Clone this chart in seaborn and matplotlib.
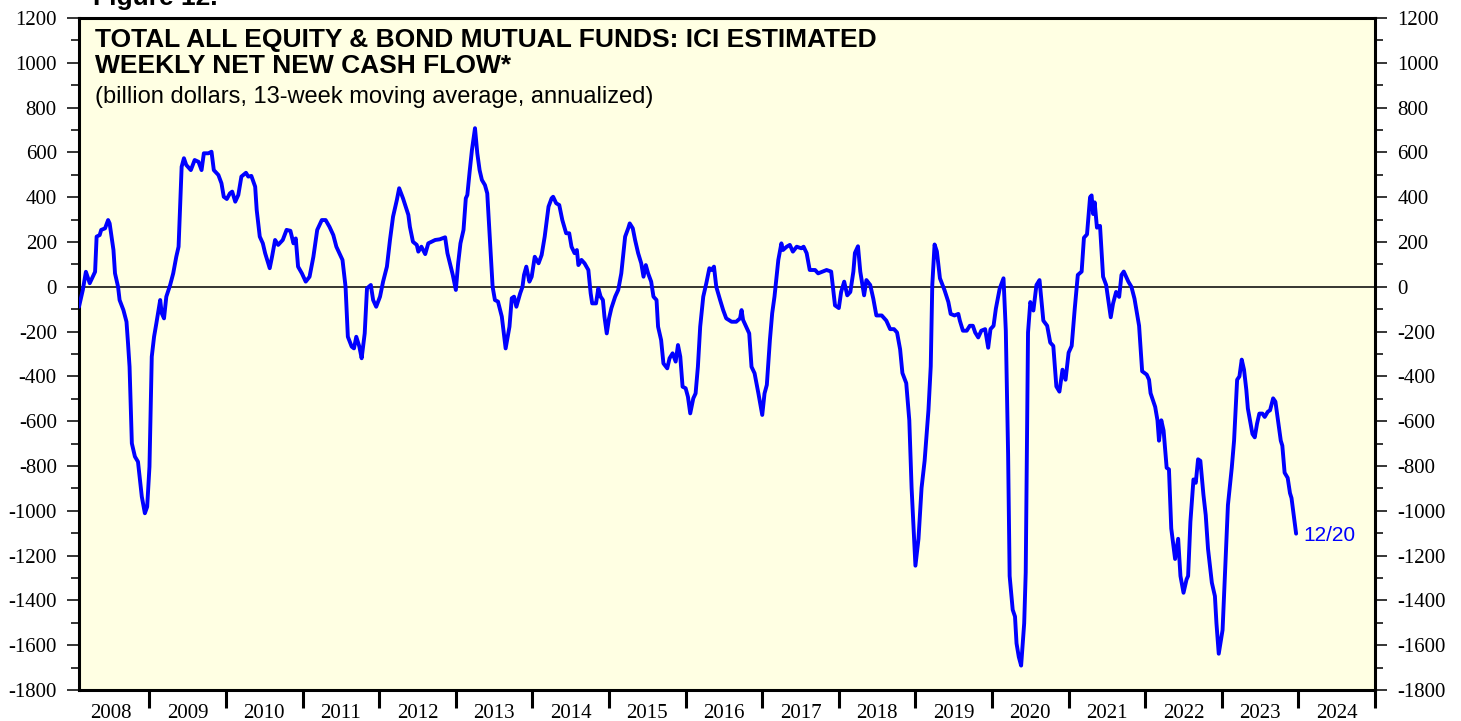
import matplotlib
matplotlib.use("Agg")
import matplotlib.pyplot as plt
import numpy as np
import pandas as pd
import seaborn as sns
from matplotlib.ticker import MultipleLocator, FixedLocator, NullFormatter, FixedFormatter

# ---- data (decimal year, billion dollars) ----
dates = [
    2008.08, 2008.13, 2008.17, 2008.22, 2008.27, 2008.29, 2008.31, 2008.35, 2008.37, 2008.42,
    2008.46, 2008.48, 2008.53, 2008.55, 2008.59, 2008.61, 2008.66, 2008.70, 2008.72, 2008.74,
    2008.77, 2008.81, 2008.85, 2008.90, 2008.94, 2008.97, 2009.00, 2009.03, 2009.06, 2009.09,
    2009.14, 2009.16, 2009.19, 2009.22, 2009.27, 2009.31, 2009.35, 2009.38, 2009.42, 2009.45,
    2009.48, 2009.54, 2009.59, 2009.64, 2009.68, 2009.71, 2009.77, 2009.81, 2009.84, 2009.90,
    2009.94, 2009.97, 2010.01, 2010.05, 2010.08, 2010.12, 2010.16, 2010.20, 2010.26, 2010.29,
    2010.33, 2010.38, 2010.40, 2010.44, 2010.48, 2010.51, 2010.57, 2010.60, 2010.64, 2010.68,
    2010.74, 2010.79, 2010.84, 2010.88, 2010.91, 2010.94, 2010.99, 2011.04, 2011.09, 2011.14,
    2011.19, 2011.25, 2011.30, 2011.35, 2011.40, 2011.44, 2011.52, 2011.56, 2011.59, 2011.64,
    2011.67, 2011.70, 2011.74, 2011.77, 2011.81, 2011.84, 2011.89, 2011.92, 2011.96, 2012.01,
    2012.05, 2012.10, 2012.14, 2012.18, 2012.23, 2012.26, 2012.31, 2012.38, 2012.40, 2012.44,
    2012.49, 2012.51, 2012.55, 2012.60, 2012.64, 2012.73, 2012.79, 2012.86,
    2012.89, 2012.96, 2013.00, 2013.03, 2013.06, 2013.10, 2013.13, 2013.15, 2013.18, 2013.21,
    2013.25, 2013.28, 2013.31, 2013.34, 2013.38, 2013.41, 2013.44, 2013.48, 2013.51, 2013.55,
    2013.60, 2013.65, 2013.70, 2013.73, 2013.76, 2013.79, 2013.84, 2013.87, 2013.89, 2013.92,
    2013.96, 2013.99, 2014.03, 2014.08, 2014.12, 2014.16, 2014.21, 2014.25, 2014.27, 2014.31,
    2014.35, 2014.39, 2014.44, 2014.48, 2014.51, 2014.55, 2014.58, 2014.60, 2014.64, 2014.68,
    2014.73, 2014.76, 2014.78, 2014.83, 2014.86, 2014.89, 2014.92, 2014.94, 2014.97, 2015.00,
    2015.03, 2015.08, 2015.12, 2015.16, 2015.21, 2015.25, 2015.27, 2015.31, 2015.34, 2015.38,
    2015.42, 2015.45, 2015.48, 2015.51, 2015.55, 2015.58, 2015.62, 2015.64, 2015.68, 2015.71,
    2015.76, 2015.79, 2015.83, 2015.87, 2015.90, 2015.93, 2015.96, 2016.00, 2016.03, 2016.06,
    2016.10, 2016.13, 2016.16, 2016.19, 2016.23, 2016.27, 2016.31, 2016.34, 2016.37, 2016.40,
    2016.45, 2016.49, 2016.53, 2016.60, 2016.66, 2016.71, 2016.73, 2016.75, 2016.79, 2016.83,
    2016.86, 2016.90, 2016.95, 2017.00, 2017.03, 2017.06, 2017.10, 2017.13, 2017.16, 2017.21,
    2017.25, 2017.27, 2017.32, 2017.36, 2017.40, 2017.45, 2017.51, 2017.54, 2017.58, 2017.62,
    2017.69, 2017.73,
    2017.84, 2017.90, 2017.95, 2018.00, 2018.03, 2018.07, 2018.11, 2018.15, 2018.19, 2018.21,
    2018.25, 2018.28, 2018.33, 2018.36, 2018.41, 2018.45, 2018.49, 2018.56, 2018.62, 2018.67,
    2018.72, 2018.76, 2018.80, 2018.83, 2018.88, 2018.92, 2018.95, 2019.00, 2019.04, 2019.08,
    2019.12, 2019.17, 2019.20, 2019.22, 2019.25, 2019.28, 2019.32, 2019.38, 2019.43, 2019.46,
    2019.51, 2019.56, 2019.58, 2019.62, 2019.67, 2019.71, 2019.75, 2019.78, 2019.82, 2019.86,
    2019.91, 2019.95, 2019.98, 2020.02, 2020.05, 2020.10, 2020.15, 2020.18, 2020.21, 2020.23,
    2020.27, 2020.30, 2020.32, 2020.35, 2020.38, 2020.42, 2020.44, 2020.47, 2020.50, 2020.54,
    2020.58, 2020.62, 2020.67, 2020.72, 2020.76, 2020.80, 2020.84, 2020.88, 2020.92, 2020.96,
    2021.00, 2021.04, 2021.08, 2021.12, 2021.17, 2021.20, 2021.24, 2021.28, 2021.30, 2021.32,
    2021.34, 2021.37,
    2021.41, 2021.45, 2021.49, 2021.55, 2021.58, 2021.62, 2021.66, 2021.69, 2021.72, 2021.78,
    2021.82, 2021.86, 2021.92, 2021.96, 2022.02, 2022.05, 2022.07, 2022.13, 2022.16, 2022.18,
    2022.21, 2022.24, 2022.28, 2022.31, 2022.34, 2022.39, 2022.43, 2022.46, 2022.50, 2022.54,
    2022.56, 2022.59, 2022.63, 2022.66, 2022.69, 2022.72, 2022.76, 2022.79, 2022.82, 2022.87,
    2022.91, 2022.93, 2022.96, 2023.01, 2023.04, 2023.08, 2023.13, 2023.16, 2023.18, 2023.20,
    2023.23, 2023.26, 2023.29, 2023.32, 2023.34, 2023.40, 2023.43, 2023.46, 2023.49, 2023.53,
    2023.56, 2023.60, 2023.63, 2023.67, 2023.70, 2023.74, 2023.77, 2023.79, 2023.82, 2023.86,
    2023.89, 2023.91, 2023.97,
]
flows = [
    -89, -14, 67, 16, 53, 67, 224, 231, 254, 261,
    298, 283, 164, 60, 0, -59, -104, -156, -252, -357,
    -699, -758, -781, -937, -1011, -982, -803, -312, -223, -163,
    -59, -118, -141, -44, 8, 60, 134, 179, 536, 574,
    544, 521, 566, 558, 521, 596, 596, 603, 521, 499,
    462, 402, 392, 417, 425, 380, 410, 492, 509, 492,
    495, 447, 343, 224, 194, 150, 83, 134, 209, 187,
    209, 254, 250, 194, 216, 90, 60, 23, 45, 134,
    254, 298, 298, 268, 231, 179, 120, 0, -223, -267,
    -275, -223, -267, -319, -208, -7, 8, -59, -89, -44,
    23, 90, 209, 313, 388, 440, 395, 321, 268, 201,
    187, 157, 179, 146, 194, 209, 212, 221,
    150, 53, -14, 105, 194, 254, 395, 410, 514, 611,
    708, 596, 521, 477, 454, 417, 239, 0, -59, -66,
    -133, -275, -178, -51, -44, -89, -29, 0, 53, 90,
    23, 45, 134, 105, 142, 224, 358, 395, 402, 373,
    365, 298, 239, 239, 179, 150, 164, 97, 120, 105,
    75, -29, -74, -74, -7, -44, -59, -133, -208, -141,
    -96, -44, -14, 60, 224, 261, 283, 261, 209, 150,
    105, 45, 97, 60, 23, -44, -59, -178, -238, -342,
    -364, -319, -297, -334, -260, -312, -446, -453, -491, -565,
    -498, -476, -357, -178, -44, 16, 83, 75, 90, 0,
    -59, -104, -141, -156, -156, -141, -104, -148, -178, -208,
    -357, -386, -476, -572, -476, -438, -238, -118, -44, 120,
    194, 164, 179, 187, 157, 179, 172, 179, 150, 75,
    75, 60,
    75, 68, -83, -95, -23, 23, -38, -23, 68, 151,
    181, 68, -38, 30, 8, -53, -128, -128, -151, -189,
    -189, -204, -279, -385, -430, -596, -898, -1245, -1125, -898,
    -777, -551, -355, 8, 189, 158, 38, -15, -68, -121,
    -128, -121, -151, -196, -196, -174, -174, -204, -226, -196,
    -189, -272, -189, -174, -98, -8, 38, -196, -747, -1291,
    -1442, -1472, -1592, -1653, -1691, -1502, -1275, -204, -68, -106,
    8, 30, -151, -174, -249, -264, -445, -468, -370, -415,
    -294, -264, -98, 53, 68, 219, 234, 400, 408, 325,
    377, 264,
    272, 45, 8, -136, -75, -23, -45, 53, 68, 23,
    0, -53, -174, -377, -392, -415, -475, -536, -596, -687,
    -596, -642, -808, -815, -1079, -1215, -1125, -1291, -1366, -1306,
    -1291, -1049, -860, -875, -770, -777, -928, -1019, -1170, -1321,
    -1381, -1502, -1638, -1532, -1291, -974, -808, -687, -551, -415,
    -400, -325, -370, -460, -543, -657, -672, -611, -566, -566,
    -581, -558, -551, -498, -513, -611, -687, -709, -830, -853,
    -921, -943, -1102,
]
year_labels = [str(y) for y in range(2008, 2025)]
title_lines = ["TOTAL ALL EQUITY & BOND MUTUAL FUNDS: ICI ESTIMATED",
               "WEEKLY NET NEW CASH FLOW*"]
subtitle = "(billion dollars, 13-week moving average, annualized)"
end_label = "12/20"
fig_label = "Figure 12."

# ---- style ----
sns.set_style("white")
plt.rcParams["axes.unicode_minus"] = False
plt.rcParams["font.family"] = ["Liberation Sans", "DejaVu Sans"]
plt.rcParams["text.color"] = "black"
plt.rcParams["xtick.color"] = "black"
plt.rcParams["ytick.color"] = "black"
plt.rcParams["axes.labelcolor"] = "black"

W, H = 1461, 721
fig = plt.figure(figsize=(W / 100, H / 100), dpi=100)
fig.patch.set_facecolor("white")
ax = fig.add_axes([79 / W, (H - 690) / H, (1375 - 79) / W, (690 - 18) / H])
ax.set_facecolor("#FFFFE3")

df = pd.DataFrame({"date": dates, "flow": flows})
sns.lineplot(data=df, x="date", y="flow", ax=ax, color="#0000FF", linewidth=2.8,
             sort=False, estimator=None, zorder=3)
for ln in ax.get_lines():
    ln.set_solid_joinstyle("round")
    ln.set_solid_capstyle("round")
ax.axhline(0, color="black", linewidth=1.1, zorder=2)

ax.set_xlim(2008.08, 2025.0)
ax.set_ylim(-1800, 1200)
ax.set_xlabel("")
ax.set_ylabel("")

ax.yaxis.set_major_locator(MultipleLocator(200))
ax.yaxis.set_minor_locator(MultipleLocator(100))
ax.tick_params(axis="y", which="both", direction="out", left=True, right=True,
               labelleft=True, labelright=True, colors="black")
ax.tick_params(axis="y", which="major", length=8.5, width=1.1, pad=7.5, labelsize=15)
ax.tick_params(axis="y", which="minor", length=5.5, width=1.1)

ax.xaxis.set_major_locator(FixedLocator(list(range(2009, 2026))))
ax.xaxis.set_major_formatter(NullFormatter())
ax.xaxis.set_minor_locator(FixedLocator([y + 0.5 for y in range(2008, 2025)]))
ax.xaxis.set_minor_formatter(FixedFormatter(year_labels))
ax.tick_params(axis="x", which="major", direction="out", bottom=True, length=13, width=2.2,
               colors="black")
ax.tick_params(axis="x", which="minor", bottom=True, length=0, pad=10, labelsize=15,
               colors="black")

for lbl in ax.get_yticklabels() + ax.get_xticklabels(minor=True):
    lbl.set_fontfamily("Liberation Serif")

for sp in ax.spines.values():
    sp.set_visible(True)
    sp.set_color("black")
    sp.set_linewidth(2.2)

# ---- texts ----
def fx(px):
    return px / W

def fy(py):
    return 1 - py / H

fig.text(fx(93), fy(5), fig_label, fontsize=19, fontweight="bold", va="baseline", ha="left",
         color="black")
fig.text(fx(95), fy(47.3), title_lines[0], fontsize=19, fontweight="bold", va="baseline",
         ha="left", color="black")
fig.text(fx(95), fy(72.7), title_lines[1], fontsize=19, fontweight="bold", va="baseline",
         ha="left", color="black")
fig.text(fx(95), fy(103.3), subtitle, fontsize=17, va="baseline", ha="left", color="black")
ax.annotate(end_label, xy=(dates[-1], flows[-1]), xytext=(5, -1.5), textcoords="offset points",
            color="#0000FF", fontsize=15, va="center", ha="left")

fig.savefig("out.png", dpi=100)
